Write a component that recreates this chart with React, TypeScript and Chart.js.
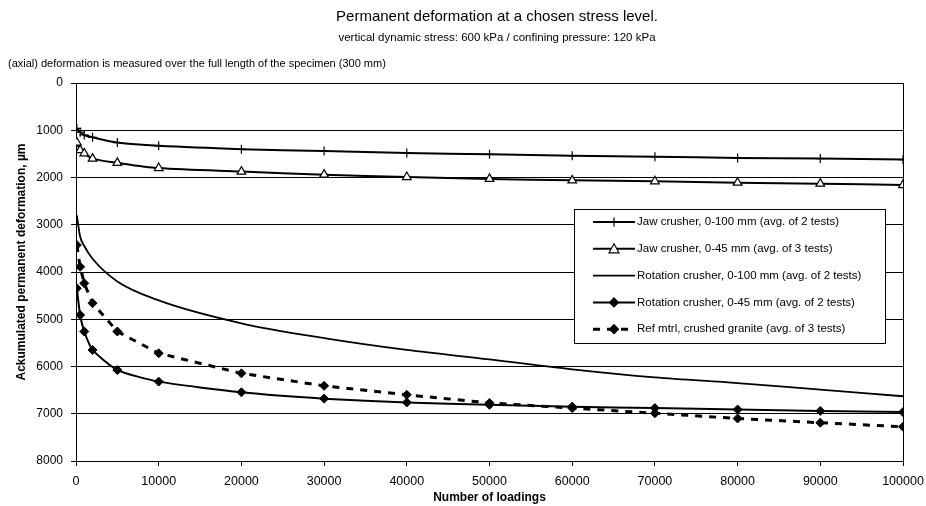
import React, { useEffect, useRef } from 'react';
import { Chart, registerables } from 'chart.js';

Chart.register(...registerables);

const FONT = '"Liberation Sans", Arial, sans-serif';

const titleText = 'Permanent deformation at a chosen stress level.';
const subtitleText = 'vertical dynamic stress: 600 kPa / confining pressure: 120 kPa';
const noteText = '(axial) deformation is measured over the full length of the specimen (300 mm)';
const xTitle = 'Number of loadings';
const yTitle = 'Ackumulated permanent deformation, µm';

const loadings = [100, 500, 1000, 2000, 5000, 10000, 20000, 30000, 40000, 50000, 60000, 70000, 80000, 90000, 100000];
const jaw0100 = [960, 1040, 1100, 1150, 1260, 1330, 1400, 1440, 1480, 1510, 1540, 1560, 1585, 1600, 1620];
const jaw045 = [1260, 1420, 1490, 1600, 1690, 1800, 1875, 1940, 1990, 2030, 2060, 2080, 2110, 2130, 2160];
const rot0100 = [2800, 3250, 3450, 3720, 4200, 4600, 5085, 5400, 5650, 5850, 6060, 6230, 6350, 6490, 6630];
const rot045 = [4345, 4910, 5260, 5650, 6075, 6320, 6545, 6680, 6760, 6810, 6850, 6880, 6910, 6940, 6965];
const refGranite = [3430, 3890, 4240, 4660, 5260, 5720, 6145, 6410, 6600, 6770, 6880, 6990, 7100, 7190, 7275];

const seriesLabels = [
  'Jaw crusher, 0-100 mm (avg. of 2 tests)',
  'Jaw crusher, 0-45 mm (avg. of 3 tests)',
  'Rotation crusher, 0-100 mm (avg. of 2 tests)',
  'Rotation crusher, 0-45 mm (avg. of 2 tests)',
  'Ref mtrl, crushed granite (avg. of 3 tests)',
];

const yTicks = [0, 1000, 2000, 3000, 4000, 5000, 6000, 7000, 8000];
const xTicks = [0, 10000, 20000, 30000, 40000, 50000, 60000, 70000, 80000, 90000, 100000];

function toPts(vals: number[]) {
  return loadings.map((x, i) => ({ x, y: vals[i] }));
}

function drawMarker(ctx: CanvasRenderingContext2D, style: string, x: number, y: number, r: number, fill: string) {
  ctx.save();
  ctx.setLineDash([]);
  ctx.lineWidth = 1.2;
  ctx.strokeStyle = '#000';
  ctx.fillStyle = fill;
  ctx.beginPath();
  if (style === 'cross') {
    ctx.moveTo(x - r, y); ctx.lineTo(x + r, y);
    ctx.moveTo(x, y - r); ctx.lineTo(x, y + r);
    ctx.stroke();
  } else if (style === 'triangle') {
    ctx.moveTo(x, y - r);
    ctx.lineTo(x + r, y + r * 0.8);
    ctx.lineTo(x - r, y + r * 0.8);
    ctx.closePath();
    ctx.fill(); ctx.stroke();
  } else if (style === 'rectRot') {
    ctx.moveTo(x, y - r); ctx.lineTo(x + r, y); ctx.lineTo(x, y + r); ctx.lineTo(x - r, y);
    ctx.closePath();
    ctx.fill(); ctx.stroke();
  }
  ctx.restore();
}

const decorPlugin = {
  id: 'decor',
  afterDraw(chart: any) {
    const { ctx, chartArea: a } = chart;
    ctx.save();
    // right border of plot
    ctx.strokeStyle = '#000';
    ctx.lineWidth = 1;
    ctx.beginPath();
    ctx.moveTo(Math.round(a.right) + 0.5, a.top);
    ctx.lineTo(Math.round(a.right) + 0.5, a.bottom);
    ctx.stroke();

    // titles
    ctx.fillStyle = '#000';
    ctx.textBaseline = 'middle';
    ctx.textAlign = 'center';
    const cx = 497;
    ctx.font = `15px ${FONT}`;
    ctx.fillText(titleText, cx, 17);
    ctx.font = `11.5px ${FONT}`;
    ctx.fillText(subtitleText, cx, 38);
    ctx.textAlign = 'left';
    ctx.font = `11px ${FONT}`;
    ctx.fillText(noteText, 8, 64);

    // axis titles
    ctx.font = `bold 12px ${FONT}`;
    ctx.textAlign = 'center';
    ctx.fillText(xTitle, (a.left + a.right) / 2, 498);
    ctx.save();
    ctx.translate(22, 262);
    ctx.rotate(-Math.PI / 2);
    ctx.fillText(yTitle, 0, 0);
    ctx.restore();

    // legend
    const bx = 574, by = 209, bw = 311, bh = 134;
    ctx.fillStyle = '#fff';
    ctx.fillRect(bx, by, bw, bh);
    ctx.strokeStyle = '#000';
    ctx.lineWidth = 1;
    ctx.strokeRect(bx + 0.5, by + 0.5, bw, bh);
    chart.data.datasets.forEach((ds: any, i: number) => {
      const y = by + 13 + i * 26.8;
      ctx.save();
      ctx.strokeStyle = '#000';
      ctx.lineWidth = ds.borderWidth;
      ctx.setLineDash(ds.borderDash || []);
      ctx.beginPath();
      ctx.moveTo(593, y);
      ctx.lineTo(635, y);
      ctx.stroke();
      ctx.restore();
      if (ds.pointRadius > 0) {
        drawMarker(ctx, ds.pointStyle, 614, y, ds.pointRadius, ds.pointBackgroundColor);
      }
      ctx.fillStyle = '#000';
      ctx.font = `11.5px ${FONT}`;
      ctx.textAlign = 'left';
      ctx.textBaseline = 'middle';
      ctx.fillText(ds.label, 637, y);
    });
    ctx.restore();
  },
};

export default function App() {
  const ref = useRef<HTMLCanvasElement>(null);
  useEffect(() => {
    if (!ref.current) return;
    const chart = new Chart(ref.current, {
      type: 'line',
      data: {
        datasets: [
          {
            label: seriesLabels[0], data: toPts(jaw0100), borderColor: '#000', borderWidth: 2,
            pointStyle: 'cross', pointRadius: 4.5, pointBorderColor: '#000', pointBackgroundColor: '#000',
            pointBorderWidth: 1.2, tension: 0.3,
          },
          {
            label: seriesLabels[1], data: toPts(jaw045), borderColor: '#000', borderWidth: 2,
            pointStyle: 'triangle', pointRadius: 5, pointBorderColor: '#000', pointBackgroundColor: '#fff',
            pointBorderWidth: 1.2, tension: 0.3,
          },
          {
            label: seriesLabels[2], data: toPts(rot0100), borderColor: '#000', borderWidth: 1.8,
            pointRadius: 0, pointStyle: 'circle', pointBackgroundColor: '#000', cubicInterpolationMode: 'monotone',
          },
          {
            label: seriesLabels[3], data: toPts(rot045), borderColor: '#000', borderWidth: 2,
            pointStyle: 'rectRot', pointRadius: 4.5, pointBorderColor: '#000', pointBackgroundColor: '#000',
            pointBorderWidth: 1, tension: 0.2,
          },
          {
            label: seriesLabels[4], data: toPts(refGranite), borderColor: '#000', borderWidth: 3, borderDash: [7, 7],
            pointStyle: 'rectRot', pointRadius: 4.5, pointBorderColor: '#000', pointBackgroundColor: '#000',
            pointBorderWidth: 1, tension: 0,
          },
        ] as any,
      },
      options: {
        animation: false,
        responsive: false,
        layout: { padding: { top: 83, right: 23, left: 0, bottom: 0 } },
        plugins: { legend: { display: false }, title: { display: false }, tooltip: { enabled: false } },
        scales: {
          x: {
            type: 'linear', min: 0, max: 100000,
            afterFit: (s: any) => { s.height = 45; s.paddingLeft = 0; s.paddingRight = 0; },
            afterBuildTicks: (s: any) => { s.ticks = xTicks.map((v) => ({ value: v })); },
            grid: { drawOnChartArea: false, drawTicks: true, tickLength: 5, color: '#000', lineWidth: 1 },
            border: { display: true, color: '#000', width: 1 },
            ticks: { color: '#000', font: { family: FONT, size: 12.5 }, padding: 8, maxRotation: 0, autoSkip: false,
              callback: (v: any) => String(v) },
          },
          y: {
            type: 'linear', reverse: true, min: 0, max: 8000,
            afterFit: (s: any) => { s.width = 76; s.paddingTop = 0; s.paddingBottom = 0; },
            afterBuildTicks: (s: any) => { s.ticks = yTicks.map((v) => ({ value: v })); },
            grid: { drawOnChartArea: true, drawTicks: true, tickLength: 5, color: '#000', lineWidth: 1 },
            border: { display: true, color: '#000', width: 1 },
            ticks: { color: '#000', font: { family: FONT, size: 12 }, padding: 8, autoSkip: false,
              callback: (v: any) => String(v) },
          },
        },
      } as any,
      plugins: [decorPlugin],
    });
    return () => chart.destroy();
  }, []);
  return (
    <div style={{ position: 'absolute', left: 0, top: 0, width: 926, height: 506, background: '#fff' }}>
      <canvas ref={ref} width={926} height={506} style={{ display: 'block' }} />
    </div>
  );
}
